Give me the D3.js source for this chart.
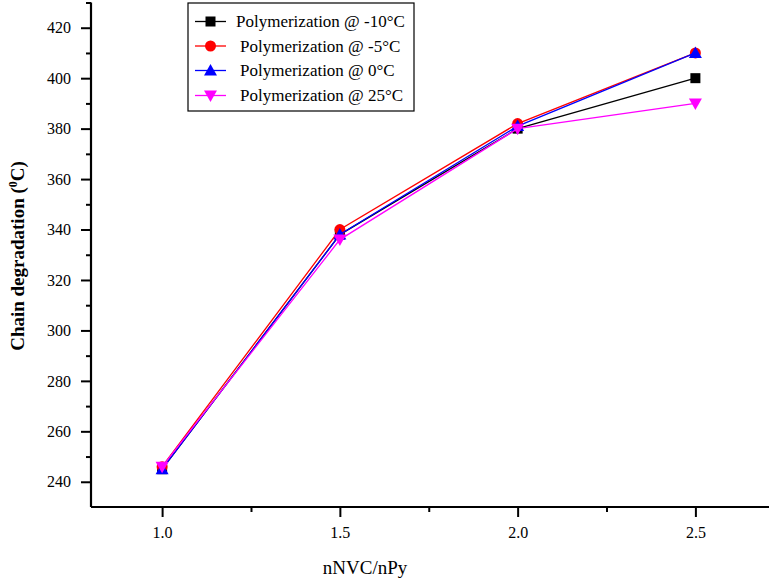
<!DOCTYPE html>
<html>
<head>
<meta charset="utf-8">
<script src="https://cdn.jsdelivr.net/npm/d3@7"></script>
<style>
  body { margin: 0; background: #fff; }
  svg { display: block; }
  text { font-family: "Liberation Serif", "Times New Roman", serif; }
</style>
</head>
<body>
<script>
const ratios = [1.0, 1.5, 2.0, 2.5];
const xTicks = [1.0, 1.5, 2.0, 2.5];
const yTicks = [240, 260, 280, 300, 320, 340, 360, 380, 400, 420];
const seriesNames = ["Polymerization @ -10°C", "Polymerization @ -5°C", "Polymerization @ 0°C", "Polymerization @ 25°C"];
const valsM10 = [245, 338, 380, 400];
const valsM5 = [246, 340, 382, 410];
const vals0 = [245, 338, 381, 410];
const vals25 = [246, 336, 380, 390];
const colors = ["#000000", "#ff0000", "#0000ff", "#ff00ff"];
const symbols = ["square", "circle", "triUp", "triDown"];

const W = 769, H = 580;
const svg = d3.select("body").append("svg").attr("width", W).attr("height", H)
  .attr("font-family", '"Liberation Serif", serif');

const x = d3.scaleLinear().domain([0.8, 2.7]).range([91, 766.5]);
const y = d3.scaleLinear().domain([230, 430]).range([507, 2.5]);

// axes
const xAxis = d3.axisBottom(x).tickValues(xTicks).tickFormat(d3.format(".1f")).tickSize(10).tickPadding(10);
const xMinor = d3.axisBottom(x).tickValues([1.25, 1.75, 2.25]).tickFormat("").tickSize(5);
const yAxis = d3.axisLeft(y).tickValues(yTicks).tickFormat(d3.format("d")).tickSize(10).tickPadding(10);
const yMinor = d3.axisLeft(y).tickValues([250, 270, 290, 310, 330, 350, 370, 390, 410, 430]).tickFormat("").tickSize(5);

function styleAxis(g) {
  g.attr("font-family", '"Liberation Serif", serif').attr("font-size", 16);
  g.select(".domain").attr("stroke", "#000").attr("stroke-width", 2.2);
  g.selectAll(".tick line").attr("stroke", "#000").attr("stroke-width", 2);
  g.selectAll(".tick text").attr("fill", "#000").style("font-size", "16px");
}

const gx = svg.append("g").attr("transform", `translate(0,${y(230)})`).call(xAxis);
styleAxis(gx);
gx.select(".domain").attr("d", `M${x(0.8)},0H${W}`);
const gxm = svg.append("g").attr("transform", `translate(0,${y(230)})`).call(xMinor);
styleAxis(gxm);
gxm.select(".domain").remove();

const gy = svg.append("g").attr("transform", `translate(${x(0.8)},0)`).call(yAxis);
styleAxis(gy);
gy.select(".domain").attr("d", `M0,${y(430)}V${y(230)}`);
const gym = svg.append("g").attr("transform", `translate(${x(0.8)},0)`).call(yMinor);
styleAxis(gym);
gym.select(".domain").remove();

// axis titles
svg.append("text")
  .attr("x", 365).attr("y", 574)
  .attr("text-anchor", "middle")
  .style("font-size", "19px")
  .text("nNVC/nPy");

const yl = svg.append("text")
  .attr("transform", `translate(24,256) rotate(-90)`)
  .attr("text-anchor", "middle")
  .style("font-size", "19px")
  .style("font-weight", "bold");
yl.append("tspan").text("Chain degradation (");
yl.append("tspan").attr("dy", -7).style("font-size", "12px").text("0");
yl.append("tspan").attr("dy", 7).text("C)");

// symbols
function drawSymbol(g, type, cx, cy, color) {
  const s = 5.5;
  if (type === "square") {
    g.append("rect").attr("x", cx - s + 0.5).attr("y", cy - s + 0.5).attr("width", 2 * s - 1).attr("height", 2 * s - 1).attr("fill", color);
  } else if (type === "circle") {
    g.append("circle").attr("cx", cx).attr("cy", cy).attr("r", s).attr("fill", color);
  } else if (type === "triUp") {
    g.append("path").attr("d", `M${cx},${cy - s - 1}L${cx + s + 1},${cy + s - 0.5}L${cx - s - 1},${cy + s - 0.5}Z`).attr("fill", color);
  } else {
    g.append("path").attr("d", `M${cx},${cy + s + 1}L${cx + s + 1},${cy - s + 0.5}L${cx - s - 1},${cy - s + 0.5}Z`).attr("fill", color);
  }
}

const allVals = [valsM10, valsM5, vals0, vals25];
const line = d3.line().x((d, i) => x(ratios[i])).y(d => y(d));
allVals.forEach((vals, k) => {
  const g = svg.append("g");
  g.append("path").datum(vals).attr("d", line).attr("fill", "none")
    .attr("stroke", colors[k]).attr("stroke-width", 1.3);
  vals.forEach((v, i) => drawSymbol(g, symbols[k], x(ratios[i]), y(v), colors[k]));
});

// legend
const lg = svg.append("g");
lg.append("rect").attr("x", 188).attr("y", 3).attr("width", 226).attr("height", 108)
  .attr("fill", "#fff").attr("stroke", "#000").attr("stroke-width", 1.2);
const rowY = [21.5, 46, 70.5, 95.5];
seriesNames.forEach((name, k) => {
  lg.append("line").attr("x1", 195).attr("x2", 226).attr("y1", rowY[k]).attr("y2", rowY[k])
    .attr("stroke", colors[k]).attr("stroke-width", 1.3);
  drawSymbol(lg, symbols[k], 210.5, rowY[k], colors[k]);
  lg.append("text").attr("x", k === 0 ? 236 : 240).attr("y", rowY[k] + 5.5)
    .style("font-size", "17px").text(name);
});
</script>
</body>
</html>
